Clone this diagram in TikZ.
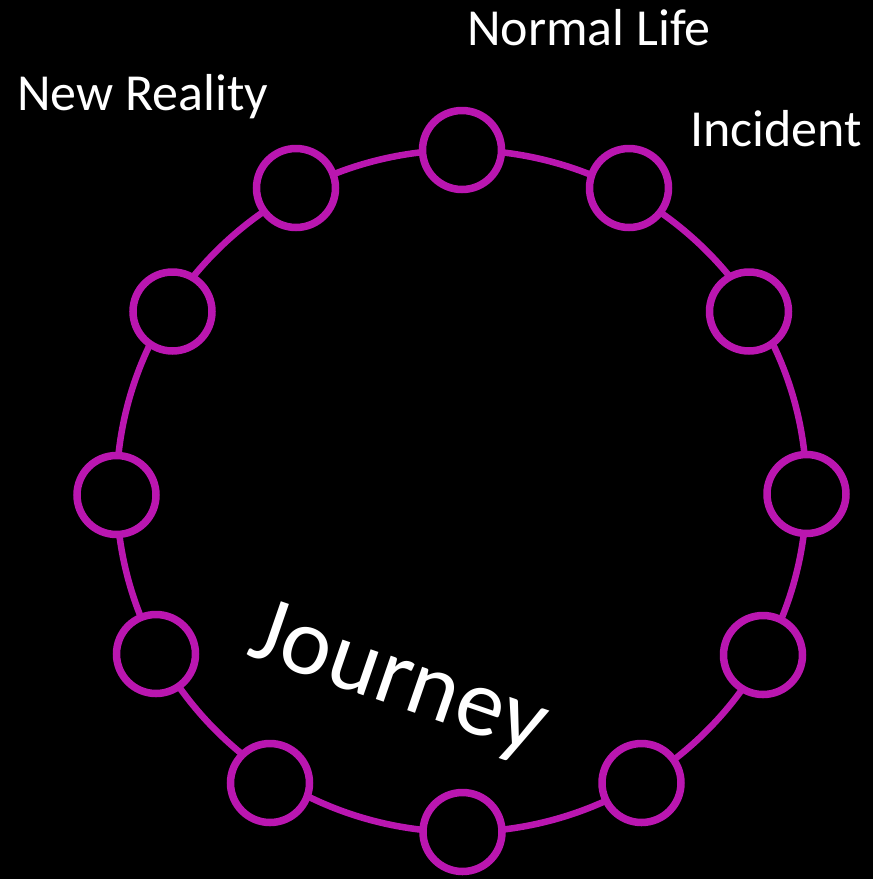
\documentclass[tikz,border=0pt]{standalone}
\usepackage{fontspec}
\setmainfont{Carlito}
\definecolor{ringmag}{RGB}{186,22,176}
\begin{document}
\begin{tikzpicture}[x=1pt,y=-1pt,
  stage/.style={circle,draw=ringmag,line width=7.5pt,fill=black,minimum size=79pt,inner sep=0pt},
  lbl/.style={text=white,font=\fontsize{52}{62}\selectfont,inner sep=0pt,anchor=base west}]
\fill[black] (0,0) rectangle (873,879);
\useasboundingbox (0,0) rectangle (873,879);
\draw[ringmag,line width=6.5pt] (461.5,491) ellipse [x radius=345,y radius=341];
\node[stage] (c1) at (462,150) {};
\node[stage] (c2) at (629,188) {};
\node[stage] (c3) at (749,311.5) {};
\node[stage] (c4) at (806.5,494) {};
\node[stage] (c5) at (763,655) {};
\node[stage] (c6) at (641.5,783) {};
\node[stage] (c7) at (462.5,832) {};
\node[stage] (c8) at (270,783) {};
\node[stage] (c9) at (156,654) {};
\node[stage] (c10) at (116.5,495) {};
\node[stage] (c11) at (172.5,311.5) {};
\node[stage] (c12) at (296,188) {};
\node[lbl] (normal) at (467,45) {Normal Life};
\node[lbl] (incident) at (690,146) {Incident};
\node[lbl] (newreal) at (17,110) {New Reality};
\node[text=white,font=\fontsize{96}{106}\selectfont,inner sep=0pt,rotate=-19] (journey) at (398,683) {Journey};
\end{tikzpicture}
\end{document}
